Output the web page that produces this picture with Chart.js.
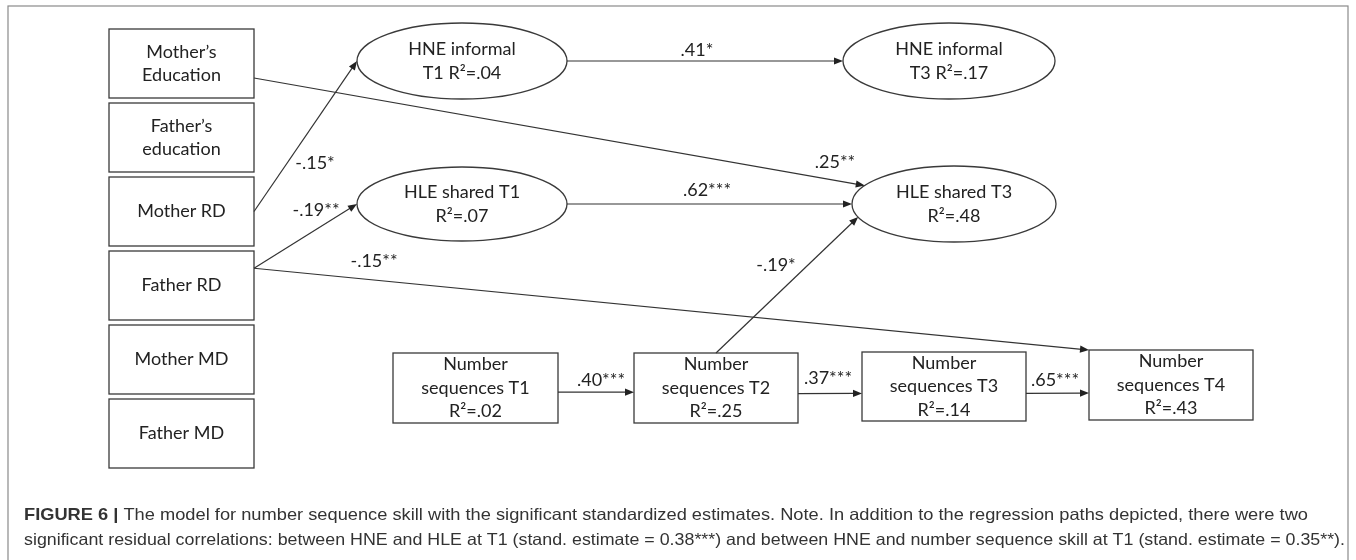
<!DOCTYPE html>
<html>
<head>
<meta charset="utf-8">
<script src="https://cdn.jsdelivr.net/npm/chart.js@4.4.0/dist/chart.umd.min.js"></script>
<style>
  html, body { margin: 0; padding: 0; background: #fff; }
  #wrap { width: 1356px; height: 560px; position: relative; }
</style>
</head>
<body>
<div id="wrap"><canvas id="path_chart"></canvas></div>
<script>
// ---- data ----
const parent_vars = ["Mother’s\nEducation", "Father’s\neducation", "Mother RD", "Father RD", "Mother MD", "Father MD"]
const latent_vars = ["HNE informal\nT1", "HNE informal\nT3", "HLE shared T1\n", "HLE shared T3\n"]
const latent_r2 = [".04", ".17", ".07", ".48"]
const seq_vars = ["Number\nsequences T1", "Number\nsequences T2", "Number\nsequences T3", "Number\nsequences T4"]
const seq_r2 = [".02", ".25", ".14", ".43"]
const path_from = ["Mother’s\nEducation", "Mother RD", "Father RD", "Father RD", "HNE informal\nT1", "HLE shared T1\n", "Number\nsequences T2", "Number\nsequences T1", "Number\nsequences T2", "Number\nsequences T3"]
const path_to = ["HLE shared T3\n", "HNE informal\nT1", "HLE shared T1\n", "Number\nsequences T4", "HNE informal\nT3", "HLE shared T3\n", "HLE shared T3\n", "Number\nsequences T2", "Number\nsequences T3", "Number\nsequences T4"]
const path_est = [".25**", "-.15*", "-.19**", "-.15**", ".41*", ".62***", "-.19*", ".40***", ".37***", ".65***"]
const caption_bold = "FIGURE 6 | "
const caption_1 = "The model for number sequence skill with the significant standardized estimates. Note. In addition to the regression paths depicted, there were two"
const caption_2 = "significant residual correlations: between HNE and HLE at T1 (stand. estimate = 0.38***) and between HNE and number sequence skill at T1 (stand. estimate = 0.35**)."

// ---- layout (diagram units, x 0..1356, y 0..560) ----
const parent_box = { x0: 109, x1: 254, tops: [29, 103, 177, 251, 325, 399], h: 69 }
const latent_geo = [[462, 61, 105, 38], [949, 61, 106, 38], [462, 204, 105, 37], [954, 204, 102, 38]]
const seq_geo = [[393, 558, 353, 423], [634, 798, 353, 423], [862, 1026, 352, 421], [1089, 1253, 350, 420]]
// anchors: for boxes [fx, fy] in -1..1, for ellipses angle in degrees
const path_anchor_from = [[1, 0.42], [1, 0], [1, -0.5], [1, -0.5], 0, 0, [0, -1], [1, 0.12], [1, 0.16], [1, 0.2]]
const path_anchor_to = [209, 180, 180, [-1, -1], 180, 180, 160, [-1, 0.12], [-1, 0.2], [-1, 0.23]]
const path_label_pos = [[835, 162], [315, 163], [316, 210], [374, 261], [697, 50], [707, 190], [776, 265], [601, 380], [828, 378], [1055, 380]]

const NODE_FONT = '18px Lato, "Open Sans", sans-serif'
const INK = '#222'

const nodes = {}
parent_vars.forEach((name, i) => {
    nodes[name] = { type: 'box', x0: parent_box.x0, x1: parent_box.x1, y0: parent_box.tops[i], y1: parent_box.tops[i] + parent_box.h, lines: name.split("\n") }
})
latent_vars.forEach((name, i) => {
    const [cx, cy, rx, ry] = latent_geo[i]
    const lines = name.split("\n")
    if (lines[1] === "") lines[1] = "R²=" + latent_r2[i]
    else lines[1] = lines[1] + " R²=" + latent_r2[i]
    nodes[name] = { type: 'ellipse', cx, cy, rx, ry, lines }
})
seq_vars.forEach((name, i) => {
    const [x0, x1, y0, y1] = seq_geo[i]
    nodes[name] = { type: 'box', x0, x1, y0, y1, lines: name.split("\n").concat(["R²=" + seq_r2[i]]) }
})

const anchor_point = (node, a) => {
    if (node.type === 'ellipse') {
        const t = a * Math.PI / 180
        return [node.cx + node.rx * Math.cos(t), node.cy + node.ry * Math.sin(t)]
    }
    const cx = (node.x0 + node.x1) / 2, cy = (node.y0 + node.y1) / 2
    return [cx + a[0] * (node.x1 - node.x0) / 2, cy + a[1] * (node.y1 - node.y0) / 2]
}

const pathPlugin = {
    id: 'pathPlugin',
    afterDraw(chart) {
        const ctx = chart.ctx
        const sx = chart.scales.x, sy = chart.scales.y
        const px = (v) => sx.getPixelForValue(v)
        const py = (v) => sy.getPixelForValue(v)
        ctx.save()

        // frame
        ctx.strokeStyle = '#8a8a8a'
        ctx.lineWidth = 1.2
        ctx.strokeRect(px(8), py(6), px(1348) - px(8), py(575) - py(6))

        // nodes
        ctx.strokeStyle = '#3a3a3a'
        ctx.lineWidth = 1.3
        ctx.fillStyle = INK
        ctx.font = NODE_FONT
        ctx.textAlign = 'center'
        ctx.textBaseline = 'middle'
        Object.values(nodes).forEach((n) => {
            let cx, cy
            if (n.type === 'box') {
                ctx.strokeRect(px(n.x0), py(n.y0), px(n.x1) - px(n.x0), py(n.y1) - py(n.y0))
                cx = (n.x0 + n.x1) / 2; cy = (n.y0 + n.y1) / 2
            } else {
                ctx.beginPath()
                ctx.ellipse(px(n.cx), py(n.cy), px(n.rx) - px(0), py(n.ry) - py(0), 0, 0, Math.PI * 2)
                ctx.stroke()
                cx = n.cx; cy = n.cy
            }
            const step = 23.5
            n.lines.forEach((line, k) => {
                ctx.fillText(line, px(cx), py(cy + (k - (n.lines.length - 1) / 2) * step))
            })
        })

        // paths
        ctx.strokeStyle = '#333'
        ctx.lineWidth = 1.2
        path_from.forEach((from, i) => {
            const a = anchor_point(nodes[from], path_anchor_from[i])
            const b = anchor_point(nodes[path_to[i]], path_anchor_to[i])
            const x1 = px(a[0]), y1 = py(a[1]), x2 = px(b[0]), y2 = py(b[1])
            const ang = Math.atan2(y2 - y1, x2 - x1)
            const len = 9, wid = 3.6
            ctx.beginPath()
            ctx.moveTo(x1, y1)
            ctx.lineTo(x2 - Math.cos(ang) * len * 0.8, y2 - Math.sin(ang) * len * 0.8)
            ctx.stroke()
            ctx.beginPath()
            ctx.moveTo(x2, y2)
            ctx.lineTo(x2 - Math.cos(ang) * len - Math.sin(ang) * wid, y2 - Math.sin(ang) * len + Math.cos(ang) * wid)
            ctx.lineTo(x2 - Math.cos(ang) * len + Math.sin(ang) * wid, y2 - Math.sin(ang) * len - Math.cos(ang) * wid)
            ctx.closePath()
            ctx.fillStyle = '#222'
            ctx.fill()
            ctx.fillStyle = INK
            const [lx, ly] = path_label_pos[i]
            ctx.fillText(path_est[i], px(lx), py(ly))
        })

        // caption, squeezed to the width of the original lines
        const fit_line = (parts, x, y, target) => {
            let total = 0
            parts.forEach((p) => { ctx.font = p.font; total += ctx.measureText(p.text).width })
            const k = target / total
            ctx.save()
            ctx.translate(x, y)
            ctx.scale(k, 1)
            let cur = 0
            parts.forEach((p) => {
                ctx.font = p.font
                ctx.fillText(p.text, cur, 0)
                cur += ctx.measureText(p.text).width
            })
            ctx.restore()
        }
        ctx.textAlign = 'left'
        ctx.fillStyle = '#333'
        const reg = '16.5px "Liberation Sans", Arial, sans-serif'
        const bold = 'bold 16.5px "Liberation Sans", Arial, sans-serif'
        fit_line([{ text: caption_bold, font: bold }, { text: caption_1, font: reg }], px(24), py(515), px(1308) - px(24))
        fit_line([{ text: caption_2, font: reg }], px(24), py(540), px(1345) - px(24))
        ctx.restore()
    }
}

const path_config = {
    type: 'scatter',
    data: {
        datasets: [{
            label: 'nodes',
            data: Object.values(nodes).map((n) => n.type === 'box'
                ? { x: (n.x0 + n.x1) / 2, y: (n.y0 + n.y1) / 2 }
                : { x: n.cx, y: n.cy }),
            pointRadius: 0,
            pointHoverRadius: 0
        }]
    },
    options: {
        responsive: true,
        maintainAspectRatio: false,
        animation: false,
        layout: { padding: 0 },
        plugins: { legend: { display: false }, tooltip: { enabled: false } },
        scales: {
            x: { type: 'linear', min: 0, max: 1356, display: false },
            y: { type: 'linear', min: 0, max: 560, reverse: true, display: false }
        }
    },
    plugins: [pathPlugin]
}

var ctx_path = document.getElementById("path_chart");
var path_chart = new Chart(ctx_path, path_config);
</script>
</body>
</html>
